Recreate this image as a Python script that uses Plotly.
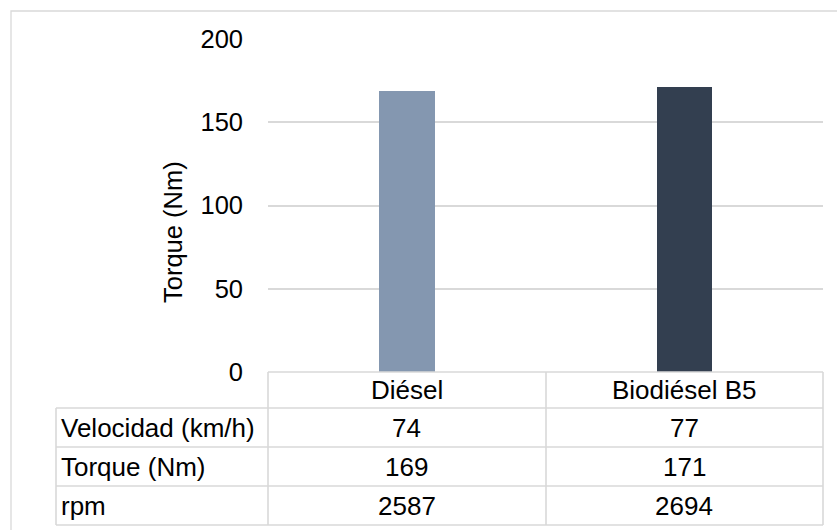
import plotly.graph_objects as go

# Data
categories = ["Diésel", "Biodiésel B5"]
velocidad = [74, 77]
torque = [169, 171]
rpm = [2587, 2694]
row_labels = ["Velocidad (km/h)", "Torque (Nm)", "rpm"]
bar_colors = ["#8497B0", "#333F50"]
y_ticks = [0, 50, 100, 150, 200]

W, H = 837, 530
L, R, T, B = 268, 14, 39, 158
PW, PH = W - L - R, H - T - B
FONT = "Liberation Sans, Arial, sans-serif"
FS = 26
GRID = "#D9D9D9"


def px_x(px):
    return (px - L) / PW


def px_y(py):
    return (H - B - py) / PH


fig = go.Figure()
fig.add_trace(go.Bar(
    x=categories, y=torque, width=0.2,
    marker=dict(color=bar_colors, line=dict(width=0)),
    hoverinfo="x+y", showlegend=False,
))

# Data table under the plot
row_edges = [372, 408, 447, 486, 525]
table_left, table_right = 56, 823
col_edges = [268, 546, 823]

shapes = []
line = dict(color=GRID, width=1.6)
# outer chart border
shapes.append(dict(type="rect", xref="paper", yref="paper",
                   x0=px_x(11), x1=px_x(W + 20), y0=px_y(11), y1=px_y(H + 20),
                   line=dict(color=GRID, width=1.3), fillcolor="rgba(0,0,0,0)", layer="below"))
# header top line
shapes.append(dict(type="line", xref="paper", yref="paper",
                   x0=px_x(col_edges[0]), x1=px_x(col_edges[-1]),
                   y0=px_y(row_edges[0]), y1=px_y(row_edges[0]), line=line))
for ry in row_edges[1:]:
    shapes.append(dict(type="line", xref="paper", yref="paper",
                       x0=px_x(table_left), x1=px_x(table_right),
                       y0=px_y(ry), y1=px_y(ry), line=line))
shapes.append(dict(type="line", xref="paper", yref="paper",
                   x0=px_x(table_left), x1=px_x(table_left),
                   y0=px_y(row_edges[1]), y1=px_y(row_edges[-1]), line=line))
for cx in col_edges:
    shapes.append(dict(type="line", xref="paper", yref="paper",
                       x0=px_x(cx), x1=px_x(cx),
                       y0=px_y(row_edges[0]), y1=px_y(row_edges[-1]), line=line))

annotations = []
font = dict(family=FONT, size=FS, color="#000000")
header_y = px_y((row_edges[0] + row_edges[1]) / 2)
for c in categories:
    annotations.append(dict(x=c, xref="x", y=header_y, yref="paper", text=c,
                            showarrow=False, font=font, xanchor="center", yanchor="middle"))

rows = [velocidad, torque, rpm]
for i, (label, vals) in enumerate(zip(row_labels, rows)):
    cy = px_y((row_edges[i + 1] + row_edges[i + 2]) / 2)
    annotations.append(dict(x=px_x(table_left + 3), xref="paper", y=cy, yref="paper",
                            text=label, showarrow=False, font=font,
                            xanchor="left", yanchor="middle"))
    for c, v in zip(categories, vals):
        annotations.append(dict(x=c, xref="x", y=cy, yref="paper", text=str(v),
                                showarrow=False, font=font,
                                xanchor="center", yanchor="middle"))

# Y axis title
annotations.append(dict(x=px_x(173), xref="paper", y=px_y(232), yref="paper",
                        text="Torque (Nm)", textangle=-90, showarrow=False,
                        font=dict(family=FONT, size=25.5, color="#000000"),
                        xanchor="center", yanchor="middle"))

fig.update_layout(
    width=W, height=H,
    margin=dict(l=L, r=R, t=T, b=B, pad=0),
    paper_bgcolor="white", plot_bgcolor="white",
    font=dict(family=FONT, size=FS, color="#000000"),
    xaxis=dict(type="category", range=[-0.5, 1.5], showticklabels=False,
               showgrid=False, zeroline=False, showline=False, fixedrange=True),
    yaxis=dict(range=[0, 200], tickvals=y_ticks, showgrid=True, gridcolor=GRID,
               gridwidth=1.6, zeroline=False, showline=False,
               tickfont=dict(family=FONT, size=25.5, color="#000000"),
               ticklabelstandoff=24, fixedrange=True),
    shapes=shapes,
    annotations=annotations,
    bargap=0,
)

fig.write_html("out.html")
